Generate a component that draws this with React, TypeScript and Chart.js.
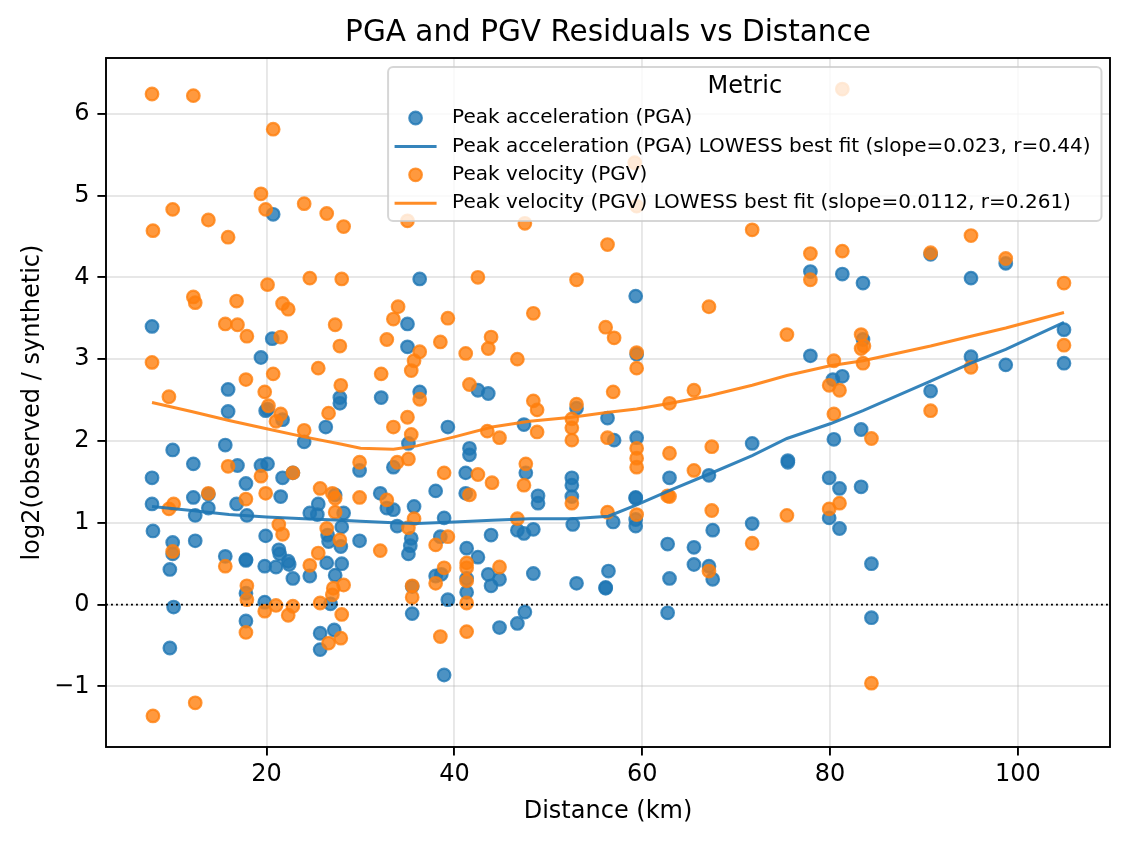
import React, { useEffect, useRef } from 'react';
import { Chart, registerables } from 'chart.js';

Chart.register(...registerables);

const chartTitle = 'PGA and PGV Residuals vs Distance';
const xLabel = 'Distance (km)';
const yLabel = 'log2(observed / synthetic)';
const legendTitle = 'Metric';
const pgaLabel = 'Peak acceleration (PGA)';
const pgaFitLabel = 'Peak acceleration (PGA) LOWESS best fit (slope=0.023, r=0.44)';
const pgvLabel = 'Peak velocity (PGV)';
const pgvFitLabel = 'Peak velocity (PGV) LOWESS best fit (slope=0.0112, r=0.261)';

const xTicks = [20, 40, 60, 80, 100];
const yTicks = [-1, 0, 1, 2, 3, 4, 5, 6];
const xMin = 2.9;
const xMax = 109.8;
const yMin = -1.74;
const yMax = 6.68;

const pgaDistance = [
  20.7, 36.3, 77.9, 81.3, 59.3, 90.7, 95.0, 98.7, 83.5, 7.8,
  20.6, 19.4, 15.9, 27.8, 27.8, 15.9, 19.9, 20.1, 21.7, 26.3,
  24.0, 15.6, 10.0, 12.2, 16.9, 19.4, 20.1, 7.8, 21.7, 22.8,
  17.8, 12.2, 13.8, 21.5, 27.3, 25.5, 7.8, 16.8, 13.8, 28.2,
  24.6, 25.4, 29.9, 12.4, 17.9, 35.0, 35.0, 32.2, 36.3, 42.5,
  43.6, 53.0, 56.3, 39.3, 35.1, 47.4, 41.6, 41.6, 33.5, 41.2,
  47.6, 52.5, 52.5, 52.5, 48.9, 48.9, 32.1, 32.8, 33.5, 35.7,
  38.0, 41.2, 38.9, 77.9, 59.4, 80.3, 81.3, 80.4, 83.3, 71.7,
  57.0, 59.4, 62.9, 67.1, 75.5, 75.5, 79.9, 81.0, 59.3, 59.3,
  83.3, 83.5, 90.7, 95.0, 98.7, 104.9, 104.9, 7.9, 10.0, 10.0,
  12.4, 9.7, 10.1, 9.7, 15.6, 17.8, 17.8, 17.8, 17.8, 19.9,
  21.3, 21.4, 19.8, 21.0, 22.3, 22.4, 22.8, 24.6, 19.8, 26.4,
  28.0, 26.6, 27.9, 26.5, 28.0, 27.3, 26.8, 25.7, 27.2, 25.7,
  29.9, 33.9, 35.4, 35.3, 35.1, 38.5, 41.3, 42.5, 38.0, 38.6,
  41.3, 41.3, 35.5, 35.5, 39.3, 38.9, 43.9, 43.6, 43.9, 44.8,
  44.8, 46.7, 47.4, 48.4, 48.4, 47.5, 46.7, 52.6, 53.0, 56.4,
  56.1, 56.1, 56.9, 59.3, 59.3, 62.7, 62.9, 62.7, 65.5, 65.5,
  67.1, 67.5, 67.5, 71.7, 79.9, 81.0, 84.4, 84.4,
];
const pgaResidual = [
  4.77, 3.98, 4.07, 4.04, 3.77, 4.28, 3.99, 4.17, 3.93, 3.40,
  3.25, 3.02, 2.63, 2.53, 2.46, 2.36, 2.37, 2.39, 2.26, 2.17,
  1.99, 1.95, 1.89, 1.72, 1.70, 1.70, 1.72, 1.55, 1.55, 1.61,
  1.48, 1.31, 1.35, 1.32, 1.34, 1.23, 1.23, 1.23, 1.18, 1.12,
  1.12, 1.10, 1.64, 1.09, 1.09, 3.43, 3.15, 2.53, 2.60, 2.62,
  2.58, 2.40, 2.28, 2.17, 1.97, 2.20, 1.91, 1.83, 1.68, 1.61,
  1.61, 1.55, 1.46, 1.32, 1.33, 1.24, 1.36, 1.18, 1.16, 1.20,
  1.39, 1.36, 1.06, 3.04, 3.06, 2.75, 2.79, 2.02, 2.14, 1.97,
  2.01, 2.04, 1.55, 1.58, 1.76, 1.74, 1.55, 1.42, 1.31, 1.30,
  1.44, 3.24, 2.61, 3.03, 2.93, 3.36, 2.95, 0.90, 0.76, 0.62,
  0.78, 0.43, -0.03, -0.53, 0.59, 0.55, 0.54, 0.14, -0.20, 0.84,
  0.67, 0.62, 0.47, 0.46, 0.53, 0.49, 0.32, 0.35, 0.03, 0.51,
  0.50, 0.77, 0.71, 0.85, 0.95, 0.36, 0.01, -0.35, -0.31, -0.55,
  0.78, 0.96, 0.81, 0.72, 0.62, 0.83, 0.69, 0.58, 0.35, 0.37,
  0.32, 0.15, 0.22, -0.11, 0.06, -0.86, 0.85, 0.37, 0.23, 0.31,
  -0.28, 0.91, 0.87, 0.92, 0.38, -0.09, -0.23, 0.98, 0.26, 0.41,
  0.21, 0.20, 1.01, 1.04, 0.96, 0.74, 0.32, -0.10, 0.70, 0.49,
  0.47, 0.31, 0.91, 0.99, 1.06, 0.93, 0.50, -0.16,
];

const pgvDistance = [
  7.8, 12.2, 20.7, 19.4, 19.9, 10.0, 13.8, 7.9, 15.9, 24.0,
  26.4, 28.2, 20.1, 24.6, 28.0, 35.0, 47.5, 56.3, 42.5, 53.0,
  81.3, 59.2, 59.4, 71.7, 77.9, 77.9, 81.3, 90.7, 95.0, 98.7,
  104.9, 12.2, 12.4, 16.8, 15.6, 16.9, 17.9, 21.7, 22.3, 21.5,
  27.3, 27.8, 7.8, 9.6, 17.8, 20.7, 25.5, 19.8, 27.9, 20.2,
  21.5, 21.0, 26.6, 24.0, 15.9, 22.8, 19.4, 19.9, 13.8, 17.8,
  25.7, 27.0, 27.3, 10.1, 9.6, 27.3, 29.9, 29.9, 34.0, 33.5,
  39.3, 32.8, 38.5, 36.3, 35.7, 35.4, 48.4, 41.2, 43.9, 43.6,
  46.7, 56.1, 57.0, 32.2, 36.3, 41.6, 48.4, 48.8, 53.0, 52.5,
  52.5, 52.5, 56.3, 35.0, 33.5, 35.4, 43.5, 44.8, 48.8, 33.9,
  35.1, 38.9, 42.5, 44.0, 47.6, 47.4, 52.5, 32.8, 41.6, 35.7,
  56.3, 46.7, 67.1, 75.4, 59.4, 59.4, 56.9, 65.5, 62.9, 80.4,
  79.9, 81.0, 80.4, 59.4, 59.4, 59.4, 62.9, 67.4, 65.5, 62.7,
  62.9, 59.4, 81.0, 79.9, 67.4, 75.4, 83.3, 83.6, 83.3, 83.5,
  84.4, 90.7, 95.0, 104.9, 10.0, 7.9, 12.4, 15.6, 17.9, 17.9,
  17.8, 21.3, 21.7, 24.6, 25.5, 19.8, 21.0, 22.8, 22.3, 26.4,
  27.8, 27.1, 28.2, 27.0, 25.7, 28.0, 26.6, 27.9, 32.1, 35.1,
  39.3, 38.0, 41.3, 41.3, 38.9, 38.0, 41.3, 41.3, 35.5, 35.5,
  38.5, 41.3, 44.8, 67.1, 71.7, 84.4,
];
const pgvResidual = [
  6.24, 6.22, 5.81, 5.02, 4.83, 4.83, 4.70, 4.57, 4.49, 4.90,
  4.78, 4.62, 3.91, 3.99, 3.98, 4.69, 4.66, 4.40, 4.00, 3.97,
  6.30, 5.40, 4.87, 4.58, 4.29, 3.97, 4.32, 4.30, 4.51, 4.23,
  3.93, 3.76, 3.69, 3.71, 3.43, 3.42, 3.28, 3.68, 3.61, 3.27,
  3.42, 3.16, 2.96, 2.54, 2.75, 2.82, 2.89, 2.60, 2.68, 2.43,
  2.33, 2.24, 2.34, 2.13, 1.69, 1.61, 1.57, 1.36, 1.36, 1.29,
  1.42, 1.36, 1.30, 1.23, 1.17, 1.13, 1.74, 1.31, 3.64, 3.49,
  3.50, 3.24, 3.21, 3.09, 2.98, 2.86, 3.56, 3.07, 3.27, 3.13,
  3.00, 3.39, 3.26, 2.82, 2.51, 2.69, 2.49, 2.38, 2.45, 2.27,
  2.16, 2.01, 2.04, 2.29, 2.17, 2.08, 2.12, 2.04, 2.11, 1.74,
  1.78, 1.61, 1.59, 1.49, 1.72, 1.46, 1.24, 1.28, 1.34, 1.05,
  1.13, 1.05, 3.64, 3.30, 3.08, 2.89, 2.60, 2.62, 2.46, 2.98,
  2.68, 2.62, 2.33, 1.91, 1.79, 1.68, 1.85, 1.93, 1.64, 1.33,
  1.32, 1.10, 1.24, 1.17, 1.15, 1.09, 3.30, 3.16, 3.13, 2.95,
  2.03, 2.37, 2.90, 3.17, 0.65, -1.36, -1.20, 0.47, 0.23, 0.06,
  -0.34, 0.98, 0.86, 0.48, 0.63, -0.08, -0.01, -0.02, -0.13, 0.93,
  0.79, 0.20, 0.24, 0.12, 0.02, -0.12, -0.47, -0.41, 0.66, 0.94,
  0.83, 0.73, 0.51, 0.45, 0.45, 0.26, 0.29, 0.02, 0.23, 0.09,
  -0.39, -0.33, 0.46, 0.41, 0.75, -0.96,
];

const fitDistance = [
  7.8, 12, 16, 20, 24, 28, 30, 33.5, 36, 40, 44, 48, 52.5,
  56.4, 59.4, 63, 67, 71.7, 75.4, 80, 83.5, 90.7, 95, 98.7, 104.9,
];
const pgaFit = [
  1.20, 1.15, 1.10, 1.07, 1.05, 1.03, 1.02, 1.00, 0.99, 1.01, 1.03, 1.05, 1.05,
  1.08, 1.22, 1.40, 1.59, 1.82, 2.03, 2.21, 2.37, 2.73, 2.95, 3.12, 3.45,
];
const pgvFit = [
  2.47, 2.36, 2.25, 2.15, 2.05, 1.96, 1.91, 1.90, 1.94, 2.05, 2.17, 2.24, 2.29,
  2.35, 2.39, 2.46, 2.55, 2.68, 2.80, 2.92, 2.98, 3.16, 3.28, 3.38, 3.57,
];

const BLUE = '31,119,180';
const ORANGE = '255,127,14';
const FONT = '"DejaVu Sans", "Liberation Sans", sans-serif';

const toPoints = (xs: number[], ys: number[]) => xs.map((x, i) => ({ x, y: ys[i] }));

const legendItems = [
  { label: pgaLabel, kind: 'point', color: BLUE },
  { label: pgaFitLabel, kind: 'line', color: BLUE },
  { label: pgvLabel, kind: 'point', color: ORANGE },
  { label: pgvFitLabel, kind: 'line', color: ORANGE },
];

function roundRectPath(ctx: CanvasRenderingContext2D, x: number, y: number, w: number, h: number, r: number) {
  ctx.beginPath();
  ctx.moveTo(x + r, y);
  ctx.lineTo(x + w - r, y);
  ctx.arcTo(x + w, y, x + w, y + r, r);
  ctx.lineTo(x + w, y + h - r);
  ctx.arcTo(x + w, y + h, x + w - r, y + h, r);
  ctx.lineTo(x + r, y + h);
  ctx.arcTo(x, y + h, x, y + h - r, r);
  ctx.lineTo(x, y + r);
  ctx.arcTo(x, y, x + r, y, r);
  ctx.closePath();
}

const framePlugin = {
  id: 'frameAndZero',
  afterDatasetsDraw(chart: any) {
    const { ctx, chartArea, scales } = chart;
    const y0 = scales.y.getPixelForValue(0);
    ctx.save();
    ctx.beginPath();
    ctx.setLineDash([1.9, 3.1]);
    ctx.lineWidth = 1.9;
    ctx.strokeStyle = '#000';
    ctx.moveTo(chartArea.left, y0);
    ctx.lineTo(chartArea.right, y0);
    ctx.stroke();
    ctx.setLineDash([]);
    ctx.lineWidth = 1.9;
    ctx.strokeRect(chartArea.left, chartArea.top, chartArea.right - chartArea.left, chartArea.bottom - chartArea.top);
    ctx.restore();
  },
};

const legendPlugin = {
  id: 'metricLegend',
  afterDraw(chart: any) {
    const { ctx, chartArea } = chart;
    ctx.save();
    ctx.font = `20px ${FONT}`;
    const maxW = Math.max(...legendItems.map((it) => ctx.measureText(it.label).width));
    const textOffset = 64;
    const boxW = textOffset + maxW + 11;
    const right = chartArea.right - 8.5;
    const left = right - boxW;
    const top = chartArea.top + 9;
    const boxH = 154;
    roundRectPath(ctx, left, top, boxW, boxH, 5);
    ctx.fillStyle = 'rgba(255,255,255,0.8)';
    ctx.fill();
    ctx.lineWidth = 2;
    ctx.strokeStyle = 'rgba(204,204,204,0.8)';
    ctx.stroke();

    ctx.fillStyle = '#000';
    ctx.textAlign = 'center';
    ctx.textBaseline = 'middle';
    ctx.font = `24px ${FONT}`;
    ctx.fillText(legendTitle, left + boxW / 2, top + 20);

    ctx.font = `20px ${FONT}`;
    ctx.textAlign = 'left';
    legendItems.forEach((it, i) => {
      const cy = top + 51 + i * 28.4;
      if (it.kind === 'point') {
        ctx.beginPath();
        ctx.arc(left + 27.5, cy, 6.3, 0, Math.PI * 2);
        ctx.fillStyle = `rgba(${it.color},0.8)`;
        ctx.fill();
        ctx.lineWidth = 2.2;
        ctx.strokeStyle = `rgba(${it.color},0.8)`;
        ctx.stroke();
      } else {
        ctx.beginPath();
        ctx.moveTo(left + 6.5, cy);
        ctx.lineTo(left + 48.5, cy);
        ctx.lineWidth = 3;
        ctx.strokeStyle = `rgba(${it.color},0.9)`;
        ctx.stroke();
      }
      ctx.fillStyle = '#000';
      ctx.fillText(it.label, left + textOffset, cy);
    });
    ctx.restore();
  },
};

const gridColor = 'rgba(176,176,176,0.3)';

export default function App() {
  const canvasRef = useRef<HTMLCanvasElement | null>(null);

  useEffect(() => {
    document.body.style.margin = '0';
    const canvas = canvasRef.current;
    if (!canvas) return;
    Chart.defaults.font.family = FONT;
    const scatterStyle = (c: string) => ({
      pointRadius: 6.3,
      pointHoverRadius: 6.3,
      borderWidth: 2.2,
      backgroundColor: `rgba(${c},0.8)`,
      borderColor: `rgba(${c},0.8)`,
    });
    const chart = new Chart(canvas, {
      type: 'scatter',
      data: {
        datasets: [
          {
            type: 'line',
            label: pgvFitLabel,
            data: toPoints(fitDistance, pgvFit),
            borderColor: `rgba(${ORANGE},0.9)`,
            borderWidth: 3,
            pointRadius: 0,
            showLine: true,
            fill: false,
            tension: 0,
            order: 0,
          } as any,
          {
            type: 'line',
            label: pgaFitLabel,
            data: toPoints(fitDistance, pgaFit),
            borderColor: `rgba(${BLUE},0.9)`,
            borderWidth: 3,
            pointRadius: 0,
            showLine: true,
            fill: false,
            tension: 0,
            order: 1,
          } as any,
          {
            label: pgvLabel,
            data: toPoints(pgvDistance, pgvResidual),
            ...scatterStyle(ORANGE),
            order: 2,
          },
          {
            label: pgaLabel,
            data: toPoints(pgaDistance, pgaResidual),
            ...scatterStyle(BLUE),
            order: 3,
          },
        ],
      },
      options: {
        responsive: false,
        animation: false,
        devicePixelRatio: 1,
        layout: { padding: { top: 0, right: 18, bottom: 0, left: 0 } },
        plugins: {
          legend: { display: false },
          tooltip: { enabled: false },
          title: {
            display: true,
            text: chartTitle,
            fullSize: false,
            color: '#000',
            font: { family: FONT, size: 29.5, weight: 'normal' },
            padding: { top: 15.5, bottom: 7.1 },
          },
        },
        scales: {
          x: {
            type: 'linear',
            min: xMin,
            max: xMax,
            afterBuildTicks: (s: any) => {
              s.ticks = xTicks.map((v) => ({ value: v }));
            },
            afterFit: (s: any) => {
              s.height = 95;
            },
            grid: {
              color: gridColor,
              lineWidth: 1.9,
              tickColor: '#000',
              tickWidth: 1.9,
              tickLength: 8.6,
              drawTicks: true,
            },
            border: { display: false },
            ticks: {
              color: '#000',
              font: { family: FONT, size: 24 },
              padding: 5,
              maxRotation: 0,
              callback: (v: any) => String(v),
            },
            title: {
              display: true,
              text: xLabel,
              color: '#000',
              font: { family: FONT, size: 24 },
              padding: { top: 0, bottom: 16 },
            },
          },
          y: {
            type: 'linear',
            min: yMin,
            max: yMax,
            afterBuildTicks: (s: any) => {
              s.ticks = yTicks.map((v) => ({ value: v }));
            },
            afterFit: (s: any) => {
              s.width = 106;
            },
            grid: {
              color: gridColor,
              lineWidth: 1.9,
              tickColor: '#000',
              tickWidth: 1.9,
              tickLength: 8.6,
              drawTicks: true,
            },
            border: { display: false },
            ticks: {
              color: '#000',
              font: { family: FONT, size: 24 },
              padding: 8,
              callback: (v: any) => (v < 0 ? '\u2212' + Math.abs(v) : String(v)),
            },
            title: {
              display: true,
              text: yLabel,
              color: '#000',
              font: { family: FONT, size: 24 },
              padding: { top: 18, bottom: 0 },
            },
          },
        },
      },
      plugins: [framePlugin, legendPlugin],
    } as any);
    return () => chart.destroy();
  }, []);

  return (
    <div style={{ width: 1128, height: 842, background: '#fff' }}>
      <canvas ref={canvasRef} width={1128} height={842} style={{ display: 'block' }} />
    </div>
  );
}
